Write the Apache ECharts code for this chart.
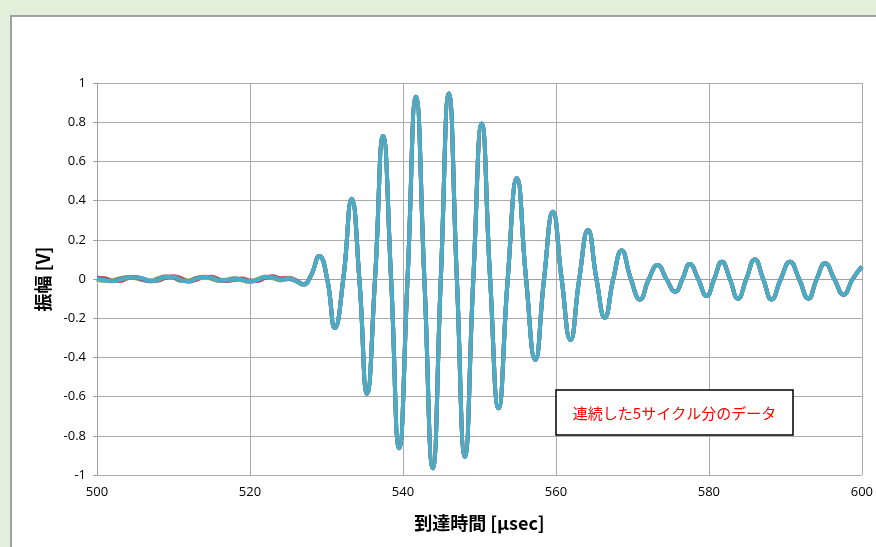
<!DOCTYPE html>
<html>
<head>
	<meta charset="utf-8">
	<script src="https://cdn.jsdelivr.net/npm/echarts@6.0.0/dist/echarts.min.js"></script>
	<style>
		html, body { margin: 0; padding: 0; background: #e2efda; overflow: hidden; }
		#frame { position: absolute; left: 10px; top: 15px; width: 900px; height: 560px; background: #fff; border: 2px solid #a0a0a0; }
		#main { position: absolute; left: 0; top: 0; width: 876px; height: 547px; }
	</style>
</head>
<body>
	<div id="frame"></div>
	<div id="main"></div>
	<script>
		// noise part before the burst (500-528 µs), one row per cycle
		var noiseT = [500, 501, 502, 503, 504, 505, 506, 507, 508, 509, 510, 511, 512, 513, 514,
			515, 516, 517, 518, 519, 520, 521, 522, 523, 524, 525, 526, 527, 528];
		var noiseBlue = [-0.002, -0.008, -0.010, 0.002, 0.006, 0.008, 0.002, -0.008, -0.006, 0.008, 0.012, -0.004, -0.014, 0.000, 0.008,
			0.008, -0.004, -0.010, -0.002, -0.006, -0.014, -0.002, 0.012, 0.006, -0.006, 0.000, -0.010, -0.028, 0.020];
		var noiseRed = [0.006, 0.004, -0.008, -0.010, 0.004, 0.010, 0.000, -0.012, -0.008, 0.006, 0.014, 0.004, -0.010, -0.004, 0.010,
			0.012, -0.002, -0.010, -0.004, 0.002, -0.008, -0.010, 0.006, 0.014, 0.004, 0.006, -0.006, -0.026, 0.020];
		var noiseGreen = [-0.004, -0.010, -0.006, 0.004, 0.010, 0.004, -0.006, -0.008, 0.004, 0.014, 0.006, -0.010, -0.008, 0.006, 0.008,
			0.000, -0.010, -0.002, 0.004, -0.008, -0.016, 0.000, 0.012, 0.004, -0.006, 0.004, -0.012, -0.030, 0.020];
		var noisePurple = [0.004, -0.002, -0.010, 0.000, 0.008, 0.006, -0.004, -0.012, 0.000, 0.012, 0.008, -0.008, -0.010, 0.004, 0.012,
			0.004, -0.008, -0.008, 0.002, -0.002, -0.010, -0.006, 0.008, 0.010, -0.002, 0.000, -0.008, -0.028, 0.020];
		var noiseCyan = [0.000, -0.006, -0.012, -0.004, 0.006, 0.008, 0.003, -0.010, -0.004, 0.010, 0.011, -0.006, -0.012, 0.002, 0.010,
			0.006, -0.007, -0.006, 0.000, -0.004, -0.012, -0.004, 0.010, 0.008, -0.004, 0.002, -0.010, -0.028, 0.020];

		// burst part (peaks, troughs and zero crossings), same for all cycles
		var waveT = [529.06, 530.1, 531.1, 532.2, 533.3, 534.3, 535.3, 536.35, 537.4, 538.45, 539.5, 540.6, 541.7, 542.8,
			543.9, 544.95, 546.0, 547.05, 548.1, 549.2, 550.3, 551.4, 552.5, 553.7, 554.9, 556.1, 557.3, 558.45,
			559.6, 560.75, 561.9, 563.05, 564.2, 565.3, 566.4, 567.5, 568.6, 569.8, 571.0, 572.15, 573.3, 574.45,
			575.6, 576.55, 577.5, 578.6, 579.7, 580.7, 581.7, 582.75, 583.8, 584.9, 586.0, 587.1, 588.2, 589.4,
			590.6, 591.8, 593.0, 594.1, 595.2, 596.4, 597.6, 598.8, 600];
		var waveV = [0.117, 0, -0.25, 0, 0.41, 0, -0.585, 0, 0.73, 0, -0.864, 0, 0.93, 0,
			-0.966, 0, 0.947, 0, -0.906, 0, 0.794, 0, -0.66, 0, 0.514, 0, -0.413, 0,
			0.343, 0, -0.311, 0, 0.25, 0, -0.197, 0, 0.145, 0, -0.104, 0, 0.071, 0,
			-0.065, 0, 0.077, 0, -0.087, 0, 0.088, 0, -0.1, 0, 0.1, 0, -0.104, 0,
			0.088, 0, -0.1, 0, 0.08, 0, -0.08, 0, 0.063];

		var cycles = [
			{ name: '1', color: '#4f81bd', noise: noiseBlue },
			{ name: '2', color: '#c0504d', noise: noiseRed },
			{ name: '3', color: '#9bbb59', noise: noiseGreen },
			{ name: '4', color: '#8064a2', noise: noisePurple },
			{ name: '5', color: '#4bacc6', noise: noiseCyan }
		];

		function pairs(t, v) {
			var out = [];
			for (var i = 0; i < t.length; i++) out.push([t[i], v[i]]);
			return out;
		}

		var series = cycles.map(function(c) {
			return {
				name: c.name,
				type: 'line',
				data: pairs(noiseT, c.noise).concat(pairs(waveT, waveV)),
				smooth: 0.5,
				showSymbol: false,
				lineStyle: { color: c.color, width: 4 },
				itemStyle: { color: c.color }
			};
		});

		var myChart = echarts.init(document.getElementById('main'));
		var option = {
			backgroundColor: 'transparent',
			animation: false,
			grid: { left: 97, right: 14, top: 83, bottom: 72 },
			xAxis: {
				type: 'value',
				min: 500,
				max: 600,
				interval: 20,
				name: '到達時間 [μsec]',
				nameLocation: 'middle',
				nameGap: 39,
				nameTextStyle: { fontFamily: 'Noto Sans CJK JP', fontWeight: 'bold', fontSize: 18, color: '#000' },
				axisLine: { lineStyle: { color: '#a0a0a0' } },
				axisTick: { show: false },
				axisLabel: { margin: 11, fontFamily: 'Open Sans', fontSize: 13, color: '#000' },
				splitLine: { lineStyle: { color: '#ababab' } }
			},
			yAxis: {
				type: 'value',
				min: -1,
				max: 1,
				interval: 0.2,
				name: '振幅 [V]',
				nameLocation: 'middle',
				nameGap: 43,
				nameTextStyle: { fontFamily: 'Noto Sans CJK JP', fontWeight: 'bold', fontSize: 18, color: '#000' },
				axisLine: { show: true, lineStyle: { color: '#a0a0a0' } },
				axisTick: { show: true, length: 4, lineStyle: { color: '#a0a0a0' } },
				axisLabel: { margin: 11, fontFamily: 'Open Sans', fontSize: 13, color: '#000' },
				splitLine: { lineStyle: { color: '#ababab' } }
			},
			series: series,
			// note box
			graphic: [{
				type: 'rect',
				z: 100,
				shape: { x: 556, y: 390, width: 237, height: 45 },
				style: { fill: '#fff', stroke: '#000', lineWidth: 1.5 }
			}, {
				type: 'text',
				z: 101,
				x: 674.5,
				y: 413,
				style: {
					text: '連続した5サイクル分のデータ',
					fill: '#ff0000',
					font: '15px "Noto Sans CJK JP"',
					textAlign: 'center',
					textVerticalAlign: 'middle'
				}
			}]
		};
		myChart.setOption(option);
	</script>
</body>
</html>
